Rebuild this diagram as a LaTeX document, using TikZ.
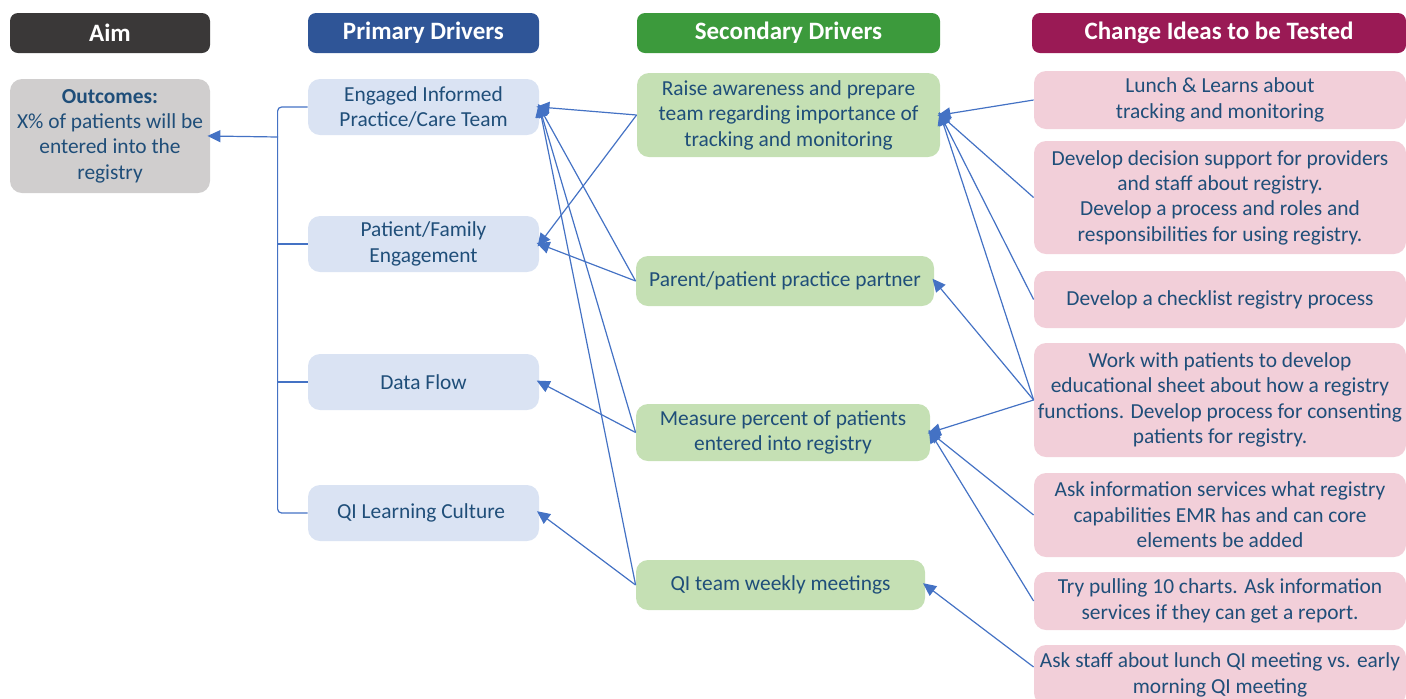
\documentclass[tikz,border=0pt]{standalone}
\usepackage{fontspec}
\setmainfont{Carlito}
\usetikzlibrary{arrows.meta}

\definecolor{aimhead}{HTML}{3A3838}
\definecolor{primhead}{HTML}{2F5597}
\definecolor{sechead}{HTML}{3C9A3C}
\definecolor{chghead}{HTML}{9A1A55}
\definecolor{aimfill}{HTML}{D0CECE}
\definecolor{primfill}{HTML}{DAE3F3}
\definecolor{secfill}{HTML}{C5E0B4}
\definecolor{chgfill}{HTML}{F2CFD9}
\definecolor{txtblue}{HTML}{1F4E79}
\definecolor{linkblue}{HTML}{4472C4}

\tikzset{
    headbox/.style={rounded corners=4pt, text=white, inner sep=0pt, minimum height=20pt,
        font=\fontsize{12.5}{14}\selectfont\bfseries},
    drvbox/.style={rounded corners=6pt, text=txtblue, align=center, inner sep=0pt,
        font=\fontsize{10.7}{12.7}\selectfont},
    chgbox/.style={drvbox, fill=chgfill, minimum width=186pt},
    conn/.style={draw=linkblue, line width=0.6pt, shorten >=-1.5pt,
        -{Triangle[length=6.5pt,width=6pt]}},
    spine/.style={draw=linkblue, line width=0.6pt, rounded corners=2pt},
}

\begin{document}
\begin{tikzpicture}[x=0.5pt, y=-0.5pt]
    \useasboundingbox (0,0) rectangle (1406,698);

    \foreach \N/\X/\W/\C/\T in { ha/110/100/aimhead/{Aim},
                                 hp/423.5/115.5/primhead/{Primary Drivers},
                                 hs/788.5/151.5/sechead/{Secondary Drivers},
                                 hc/1219/187/chghead/{Change Ideas to be Tested}
        } {
        \node[headbox, fill=\C, minimum width=\W pt](\N) at (\X,33) {\T};
        }

        \node[drvbox, fill=aimfill, minimum width=100pt, minimum height=57pt](aim) at (110,136)
            {\textbf{Outcomes:}\\X\% of patients will be\\entered into the\\registry};

    \foreach \N/\Y/\T in { p1/107/{Engaged Informed\\Practice/Care Team},
                           p2/244/{Patient/Family\\Engagement},
                           p3/382/{Data Flow},
                           p4/513/{QI Learning Culture}
        } {
        \node[drvbox, fill=primfill, minimum width=115.5pt, minimum height=28pt](\N) at (423.5,\Y) {\T};
        }

        \node[drvbox, fill=secfill, minimum width=151.5pt, minimum height=42pt](s1) at (788.5,115)
            {Raise awareness and prepare\\team regarding importance of\\tracking and monitoring};
        \node[drvbox, fill=secfill, minimum width=149pt, minimum height=25pt](s2) at (785,281)
            {Parent/patient practice partner};
        \node[drvbox, fill=secfill, minimum width=147pt, minimum height=28.5pt](s3) at (783,432.5)
            {Measure percent of patients\\entered into registry};
        \node[drvbox, fill=secfill, minimum width=144.5pt, minimum height=25pt](s4) at (780.5,585)
            {QI team weekly meetings};

        \node[chgbox, minimum height=29pt](c1) at (1220,100)
            {Lunch \& Learns about\\tracking and monitoring};
        \node[chgbox, minimum height=56.5pt](c2) at (1220,197.5)
            {Develop decision support for providers\\and staff about registry.\\Develop a process and roles and\\responsibilities for using registry.};
        \node[chgbox, minimum height=28.5pt](c3) at (1220,299.5)
            {Develop a checklist registry process};
        \node[chgbox, minimum height=57pt](c4) at (1220,400)
            {Work with patients to develop\\educational sheet about how a registry\\functions. Develop process for consenting\\patients for registry.};
        \node[chgbox, minimum height=42pt](c5) at (1220,515)
            {Ask information services what registry\\capabilities EMR has and can core\\elements be added};
        \node[chgbox, minimum height=29pt](c6) at (1220,601)
            {Try pulling 10 charts. Ask information\\services if they can get a report.};
        \node[chgbox, minimum height=30pt](c7) at (1220,675)
            {Ask staff about lunch QI meeting vs. early\\morning QI meeting};

        \draw[spine] (p1.west) -- ++(-30,0) |- (p4.west);
        \draw[spine] (p2.west) -- ++(-30,0);
        \draw[spine] (p3.west) -- ++(-30,0);
        \coordinate (hub) at (278,137);
        \draw[conn] (hub) -- (aim.east);

    \foreach \S/\P in {s1/p1, s1/p2, s2/p1, s2/p2, s3/p1, s3/p3, s4/p1, s4/p4}
        \draw[conn] (\S.west) -- (\P.east);

    \foreach \A/\B in {c1/s1, c2/s1, c3/s1, c4/s1, c4/s2, c4/s3, c5/s3, c6/s3}
        \draw[conn] (\A.west) -- (\B.east);

        \draw[conn] ([yshift=4pt]c7.west) -- (s4.east);
\end{tikzpicture}
\end{document}
